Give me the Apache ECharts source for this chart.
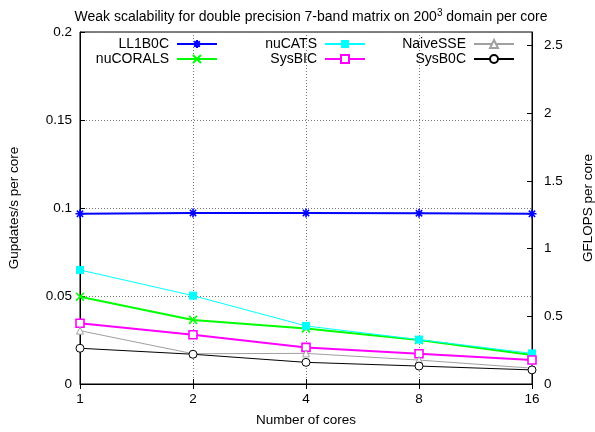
<!DOCTYPE html>
<html>
<head>
<meta charset="utf-8">
<script src="https://cdn.jsdelivr.net/npm/echarts@6/dist/echarts.min.js"></script>
<style>html,body{margin:0;padding:0;background:#fff;}#c{width:595px;height:432px;}</style>
</head>
<body>
<div id="c"></div>
<script>
const cores = ['1', '2', '4', '8', '16'];
const LL1B0C   = [0.0967, 0.0972, 0.0972, 0.0970, 0.0967];
const nuCATS   = [0.0648, 0.0502, 0.0330, 0.0252, 0.0174];
const nuCORALS = [0.0496, 0.0364, 0.0316, 0.0250, 0.0165];
const SysBIC   = [0.0345, 0.0280, 0.0208, 0.0172, 0.0136];
const NaiveSSE = [0.0303, 0.0172, 0.0174, 0.0136, 0.0090];
const SysB0C   = [0.0203, 0.0169, 0.0123, 0.0102, 0.0080];
const leftTicks = [0, 0.05, 0.1, 0.15, 0.2];
const rightTicks = [0, 0.5, 1, 1.5, 2, 2.5];

const FONT = 'Liberation Sans, Arial, sans-serif';
const ASTER = 'path://M0,5L10,5M5,0L5,10M1.5,1.5L8.5,8.5M8.5,1.5L1.5,8.5';
const CROSS = 'path://M0,0L10,10M10,0L0,10';

function mk(name, data, color, width, symbol, size, fill, bw) {
  return {
    name: name, type: 'line', data: data, xAxisIndex: 0, yAxisIndex: 0,
    symbol: symbol, symbolSize: size, showAllSymbol: true,
    lineStyle: {color: color, width: width},
    itemStyle: {color: fill, borderColor: color, borderWidth: bw},
    emphasis: {disabled: true}, animation: false, z: 3
  };
}
const series = [
  mk('LL1B0C', LL1B0C, '#0000ff', 2, ASTER, 9, '#0000ff', 1.6),
  mk('nuCORALS', nuCORALS, '#00ff00', 2, CROSS, 8, '#00ff00', 1.6),
  mk('nuCATS', nuCATS, '#00ffff', 1, 'rect', 8, '#00ffff', 0),
  mk('SysBIC', SysBIC, '#ff00ff', 2, 'rect', 8, '#ffffff', 1.6),
  mk('NaiveSSE', NaiveSSE, '#a0a0a0', 1, 'triangle', 7, '#ffffff', 1),
  mk('SysB0C', SysB0C, '#000000', 1, 'circle', 8, '#ffffff', 1)
];
series.push({type: 'line', data: [], xAxisIndex: 0, yAxisIndex: 1, silent: true});

function lg(name, right, top) {
  return {
    data: [name], right: right, top: top, padding: 0, align: 'right',
    itemWidth: 40, itemHeight: 10, itemGap: 0, selectedMode: false,
    textStyle: {fontFamily: FONT, fontSize: 14, color: '#000', padding: [0, 3, 0, 0]}
  };
}

const chart = echarts.init(document.getElementById('c'), null, {renderer: 'canvas'});
chart.setOption({
  backgroundColor: '#fff',
  animation: false,
  title: {
    text: 'Weak scalability for double precision 7-band matrix on 200{sup|3} domain per core',
    left: 306, top: 3, textAlign: 'center',
    textStyle: {fontFamily: FONT, fontSize: 14, fontWeight: 'normal', color: '#000',
      rich: {sup: {fontFamily: FONT, fontSize: 10, verticalAlign: 'top', padding: [0, 0, 8, 0]}}}
  },
  legend: [
    lg('LL1B0C', 377, 37), lg('nuCORALS', 377, 52),
    lg('nuCATS', 229, 37), lg('SysBIC', 229, 52),
    lg('NaiveSSE', 80, 37), lg('SysB0C', 80, 52)
  ],
  grid: {left: 80, right: 63, top: 32, bottom: 48, containLabel: false, outerBoundsMode: 'none',
    show: true, borderColor: '#000', borderWidth: 1, backgroundColor: 'transparent'},
  xAxis: [{
    type: 'category', data: cores, boundaryGap: false, position: 'bottom',
    name: 'Number of cores', nameLocation: 'middle', nameGap: 29,
    nameTextStyle: {fontFamily: FONT, fontSize: 13.5, color: '#000'},
    axisLine: {show: true, lineStyle: {color: '#000'}},
    axisTick: {show: true, inside: true, length: 5, alignWithLabel: true, lineStyle: {color: '#000'}},
    axisLabel: {fontFamily: FONT, fontSize: 13.5, color: '#000', margin: 8},
    splitLine: {show: true, lineStyle: {color: '#777', type: [1, 2], width: 1}}
  }, {
    type: 'category', data: cores, boundaryGap: false, position: 'top',
    axisLine: {show: false},
    axisTick: {show: true, inside: true, length: 5, lineStyle: {color: '#000'}},
    axisLabel: {show: false}, splitLine: {show: false}
  }],
  yAxis: [{
    type: 'value', min: 0, max: 0.2, interval: 0.05, position: 'left',
    name: 'Gupdates/s per core', nameLocation: 'middle', nameGap: 59,
    nameTextStyle: {fontFamily: FONT, fontSize: 13.5, color: '#000'},
    axisLine: {show: true, lineStyle: {color: '#000'}},
    axisTick: {show: true, inside: true, length: 5, lineStyle: {color: '#000'}},
    axisLabel: {fontFamily: FONT, fontSize: 13.5, color: '#000', margin: 8,
      formatter: v => { const t = leftTicks.find(x => Math.abs(x - v) < 1e-9); return t === undefined ? '' : String(t); }},
    splitLine: {show: true, lineStyle: {color: '#777', type: [1, 2], width: 1}}
  }, {
    type: 'value', min: 0, max: 2.6, interval: 0.5, position: 'right',
    name: 'GFLOPS per core', nameLocation: 'middle', nameGap: 49, nameRotate: 90,
    nameTextStyle: {fontFamily: FONT, fontSize: 13.5, color: '#000'},
    axisLine: {show: true, lineStyle: {color: '#000'}},
    axisTick: {show: true, inside: true, length: 5, lineStyle: {color: '#000'}},
    axisLabel: {fontFamily: FONT, fontSize: 13.5, color: '#000', margin: 12, showMaxLabel: false,
      formatter: v => { const t = rightTicks.find(x => Math.abs(x - v) < 1e-9); return t === undefined ? '' : String(t); }},
    splitLine: {show: false}
  }],
  series: series
});
</script>
</body>
</html>
